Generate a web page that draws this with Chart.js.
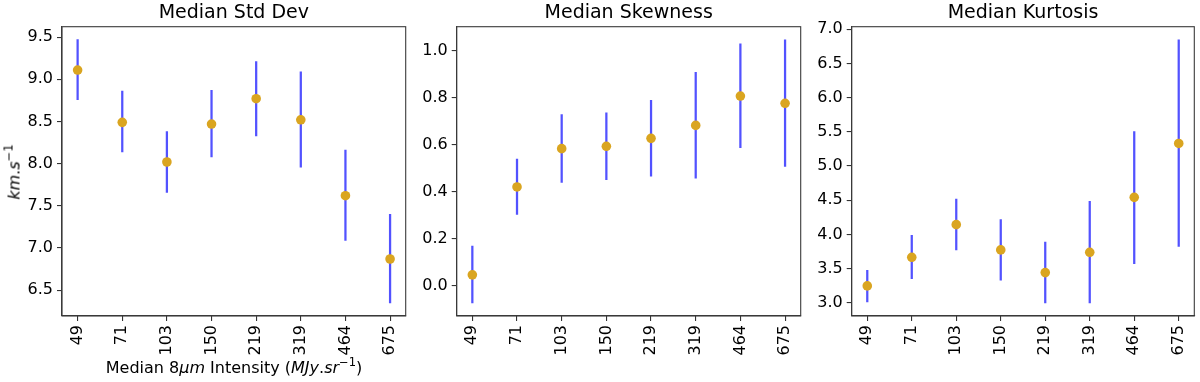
<!DOCTYPE html>
<html><head><meta charset="utf-8">
<script src="https://cdn.jsdelivr.net/npm/chart.js@4"></script>
<style>
html,body{margin:0;padding:0;background:#fff;width:1200px;height:382px;overflow:hidden;font-family:"DejaVu Sans";}
canvas{position:absolute;left:0;top:0;}
.lbl{position:absolute;font:16px "DejaVu Sans";color:#000;white-space:nowrap;line-height:20px;}
.lbl i{font-style:italic;}
.lbl sup{font-size:11.5px;vertical-align:0;position:relative;top:-7px;}
</style></head><body>
<canvas id="c1" width="1200" height="382"></canvas>
<canvas id="c2" width="1200" height="382"></canvas>
<canvas id="c3" width="1200" height="382"></canvas>
<div class="lbl" id="xlab" style="left:234px;top:358px;transform:translateX(-50%);">Median 8<i>μm</i> Intensity (<i>MJy</i>.<i>sr</i><sup>−1</sup>)</div>
<div class="lbl" id="ylab" style="left:15px;top:172px;transform:translate(-50%,-50%) rotate(-90deg);"><i>km</i>.<i>s</i><sup>−1</sup></div>
<script>
const categories = ['49','71','103','150','219','319','464','675'];

const stdMedian = [9.11, 8.49, 8.02, 8.47, 8.77, 8.52, 7.62, 6.87];
const stdLow    = [8.76, 8.14, 7.66, 8.08, 8.33, 7.96, 7.09, 6.35];
const stdHigh   = [9.47, 8.86, 8.38, 8.87, 9.21, 9.09, 8.16, 7.40];

const skewMedian = [0.045, 0.419, 0.582, 0.592, 0.626, 0.681, 0.806, 0.775];
const skewLow    = [-0.074, 0.302, 0.438, 0.450, 0.465, 0.456, 0.586, 0.506];
const skewHigh   = [0.167, 0.538, 0.727, 0.734, 0.788, 0.907, 1.028, 1.045];

const kurtMedian = [3.248, 3.666, 4.143, 3.774, 3.442, 3.739, 4.542, 5.330];
const kurtLow    = [3.015, 3.355, 3.774, 3.330, 3.000, 3.000, 3.574, 3.826];
const kurtHigh   = [3.476, 3.987, 4.518, 4.216, 3.890, 4.483, 5.505, 6.844];

const stdTicks  = [6.5, 7.0, 7.5, 8.0, 8.5, 9.0, 9.5];
const skewTicks = [0.0, 0.2, 0.4, 0.6, 0.8, 1.0];
const kurtTicks = [3.0, 3.5, 4.0, 4.5, 5.0, 5.5, 6.0, 6.5, 7.0];

const titles = ['Median Std Dev', 'Median Skewness', 'Median Kurtosis'];

const FONT = '"DejaVu Sans"';
const W = 1200, H = 382;
const PLOT_TOP = 26.7, PLOT_BOTTOM = 316;

const boxPlugin = {
  id: 'box',
  afterDatasetsDraw(chart) {
    const a = chart.chartArea, ctx = chart.ctx;
    ctx.save();
    ctx.strokeStyle = '#3a3a3a';
    ctx.lineWidth = 1.1;
    ctx.strokeRect(a.left, a.top, a.right - a.left, a.bottom - a.top);
    ctx.restore();
  }
};

function makePanel(id, title, med, lo, hi, yTicks, yMin, yMax, left, right) {
  const pts = med.map((v, i) => ({x: i, y: v}));
  const bars = lo.map((v, i) => ({x: i, y: [v, hi[i]]}));
  new Chart(document.getElementById(id), {
    type: 'bar',
    data: {
      datasets: [
        {type: 'bar', data: bars, backgroundColor: 'rgba(0,0,255,0.68)', borderWidth: 0,
         barThickness: 1.6, order: 2, grouped: false},
        {type: 'scatter', data: pts, backgroundColor: '#DAA520', borderWidth: 0,
         pointRadius: 4.8, order: 1}
      ]
    },
    options: {
      responsive: false, animation: false, devicePixelRatio: 1,
      layout: {padding: {left: 0, right: W - right, top: 0, bottom: 0}},
      plugins: {
        legend: {display: false}, tooltip: {enabled: false},
        title: {display: true, text: title, fullSize: false, color: '#000',
                font: {family: FONT, size: 19, weight: 'normal', lineHeight: 1.2},
                padding: {top: 2, bottom: PLOT_TOP - 2 - 22.8}}
      },
      scales: {
        x: {
          type: 'linear', min: -0.35, max: 7.35, offset: false,
          afterBuildTicks: s => { s.ticks = categories.map((c, i) => ({value: i})); },
          afterFit: s => { s.height = H - PLOT_BOTTOM; s.paddingLeft = 0; s.paddingRight = 0; },
          ticks: {autoSkip: false, minRotation: 90, maxRotation: 90, padding: 4, color: '#000',
                  font: {family: FONT, size: 16}, callback: v => categories[v]},
          grid: {display: true, offset: false, drawOnChartArea: false, drawTicks: true, tickLength: 5, color: '#333', lineWidth: 1.1},
          border: {display: true, color: '#3a3a3a', width: 1.1}
        },
        y: {
          type: 'linear', min: yMin, max: yMax,
          afterBuildTicks: s => { s.ticks = yTicks.map(v => ({value: v})); },
          afterFit: s => { s.width = left; s.paddingTop = 0; s.paddingBottom = 0; },
          ticks: {padding: 4, color: '#000', font: {family: FONT, size: 16},
                  callback: v => v.toFixed(1)},
          grid: {display: true, offset: false, drawOnChartArea: false, drawTicks: true, tickLength: 5, color: '#333', lineWidth: 1.1},
          border: {display: true, color: '#3a3a3a', width: 1.1}
        }
      }
    },
    plugins: [boxPlugin]
  });
}

makePanel('c1', titles[0], stdMedian, stdLow, stdHigh, stdTicks, 6.194, 9.624, 62, 405.7);
makePanel('c2', titles[1], skewMedian, skewLow, skewHigh, skewTicks, -0.130, 1.101, 456.7, 800.7);
makePanel('c3', titles[2], kurtMedian, kurtLow, kurtHigh, kurtTicks, 2.808, 7.036, 851.7, 1194.3);
</script>
</body></html>
